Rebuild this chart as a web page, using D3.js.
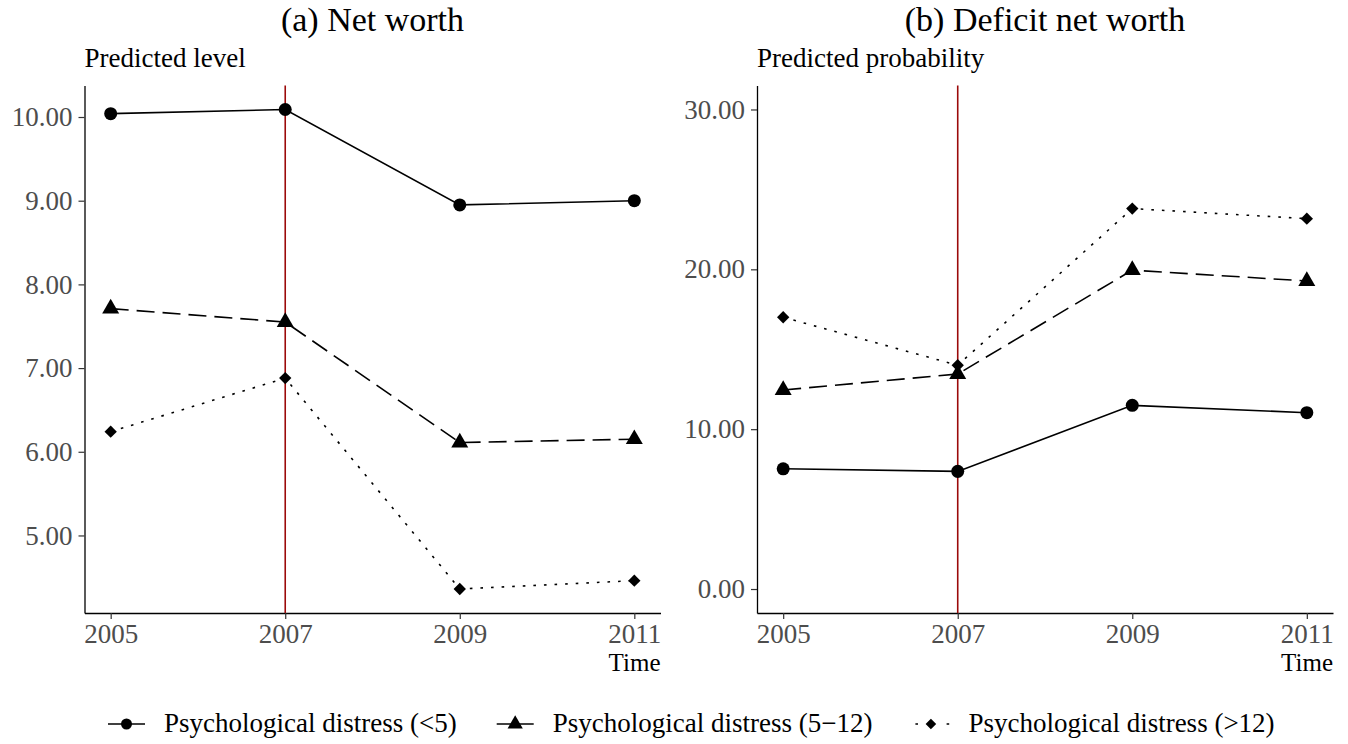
<!DOCTYPE html>
<html lang="en">
<head>
<meta charset="UTF-8">
<script src="https://d3js.org/d3.v7.min.js"></script>
<style>
  body { margin: 0; background: #fff; }
  svg text { font-family: "Liberation Serif", "DejaVu Serif", serif; }
</style>
</head>
<body>
<div id="chart"></div>
<script>
// data
var years = [2005, 2007, 2009, 2011];
var eventYear = 2007;
var groupLabels = ["Psychological distress (<5)",
                   "Psychological distress (5\u221212)",
                   "Psychological distress (>12)"];

// (a) net worth, predicted level
var netWorthLow  = [10.04, 10.09, 8.95, 9.00];
var netWorthMid  = [7.71, 7.55, 6.11, 6.15];
var netWorthHigh = [6.24, 6.88, 4.36, 4.46];
var netWorthTicks = [5, 6, 7, 8, 9, 10];

// (b) deficit net worth, predicted probability
var deficitLow  = [7.52, 7.36, 11.49, 11.03];
var deficitMid  = [12.45, 13.45, 19.95, 19.27];
var deficitHigh = [17.0, 14.0, 23.8, 23.17];
var deficitTicks = [0, 10, 20, 30];

var width = 1348, height = 744;
var svg = d3.select("#chart").append("svg")
    .attr("width", width).attr("height", height);

// one style per group: marker + line type
var styles = [
  { symbol: d3.symbolCircle, size: 133, rot: 0, dash: null },
  { symbol: d3.symbolTriangle, size: 125, rot: 0, dash: "18,8" },
  { symbol: d3.symbolSquare, size: 76, rot: 45, dash: "2.6,8" }
];

function expand(lo, hi) {
  var pad = (hi - lo) * 0.05;
  return [lo - pad, hi + pad];
}

function panel(opt) {
  var g = svg.append("g");
  var x = d3.scaleLinear().domain(expand(2005, 2011)).range([opt.left, opt.right]);
  var y = d3.scaleLinear().domain(opt.ydomain).range([613, 85.5]);

  // titles
  g.append("text")
      .attr("x", (opt.left + opt.right) / 2).attr("y", 31)
      .attr("text-anchor", "middle")
      .style("font-size", "34px")
      .text(opt.title);
  g.append("text")
      .attr("x", opt.left).attr("y", 67)
      .style("font-size", "27px")
      .text(opt.ylab);
  g.append("text")
      .attr("x", opt.right).attr("y", 671)
      .attr("text-anchor", "end")
      .style("font-size", "25px")
      .text("Time");

  // axes
  var ya = g.append("g")
      .attr("transform", "translate(" + opt.left + ",0)")
      .call(d3.axisLeft(y).tickValues(opt.ticks).tickFormat(d3.format(".2f"))
            .tickSize(6).tickSizeOuter(0).tickPadding(6));
  var xa = g.append("g")
      .attr("transform", "translate(0,613)")
      .call(d3.axisBottom(x).tickValues(years).tickFormat(d3.format("d"))
            .tickSize(6).tickSizeOuter(0).tickPadding(5));
  [ya, xa].forEach(function (a) {
    a.select(".domain").attr("stroke", "#000").attr("stroke-width", 1.3);
    a.selectAll(".tick line").attr("stroke", "#333").attr("stroke-width", 1.2);
    a.selectAll(".tick text")
        .style("font-family", "'Liberation Serif', serif")
        .style("font-size", "27px")
        .attr("fill", "#4d4d4d");
  });

  // 2007 marker
  g.append("line")
      .attr("x1", x(eventYear)).attr("x2", x(eventYear))
      .attr("y1", y.range()[1]).attr("y2", y.range()[0])
      .attr("stroke", "#9b0a0a").attr("stroke-width", 1.6);

  var line = d3.line()
      .x(function (d, i) { return x(years[i]); })
      .y(function (d) { return y(d); });

  opt.series.forEach(function (vals, k) {
    var st = styles[k];
    g.append("path")
        .datum(vals)
        .attr("d", line)
        .attr("fill", "none")
        .attr("stroke", "#000")
        .attr("stroke-width", 1.6)
        .attr("stroke-dasharray", st.dash);
    g.selectAll(".pt" + k)
        .data(vals)
        .enter().append("path")
        .attr("d", d3.symbol().type(st.symbol).size(st.size))
        .attr("transform", function (d, i) {
          return "translate(" + x(years[i]) + "," + y(d) + ") rotate(" + st.rot + ")";
        })
        .attr("fill", "#000");
  });
}

panel({
  left: 84.5, right: 660.5,
  ydomain: expand(d3.min(netWorthHigh.concat(netWorthLow, netWorthMid)),
                  d3.max(netWorthHigh.concat(netWorthLow, netWorthMid))),
  ticks: netWorthTicks,
  title: "(a) Net worth",
  ylab: "Predicted level",
  series: [netWorthLow, netWorthMid, netWorthHigh]
});

panel({
  left: 757, right: 1333,
  ydomain: expand(0, 30),
  ticks: deficitTicks,
  title: "(b) Deficit net worth",
  ylab: "Predicted probability",
  series: [deficitLow, deficitMid, deficitHigh]
});

// legend along the bottom
var legend = svg.append("g");
var keySizes = [95, 100, 56];
var kx = 108, ky = 724;
groupLabels.forEach(function (lab, k) {
  var st = styles[k];
  legend.append("line")
      .attr("x1", kx).attr("x2", kx + 37)
      .attr("y1", ky).attr("y2", ky)
      .attr("stroke", "#000").attr("stroke-width", 1.6)
      .attr("stroke-dasharray", k === 2 ? "2.6,13" : null)
      .attr("stroke-dashoffset", k === 2 ? -3 : null);
  legend.append("path")
      .attr("d", d3.symbol().type(st.symbol).size(keySizes[k]))
      .attr("transform", "translate(" + (kx + 18.5) + "," + ky + ") rotate(" + st.rot + ")")
      .attr("fill", "#000");
  var t = legend.append("text")
      .attr("x", kx + 56).attr("y", 732)
      .style("font-size", "27px")
      .text(lab);
  kx = kx + 56 + t.node().getComputedTextLength() + 40;
});
</script>
</body>
</html>
